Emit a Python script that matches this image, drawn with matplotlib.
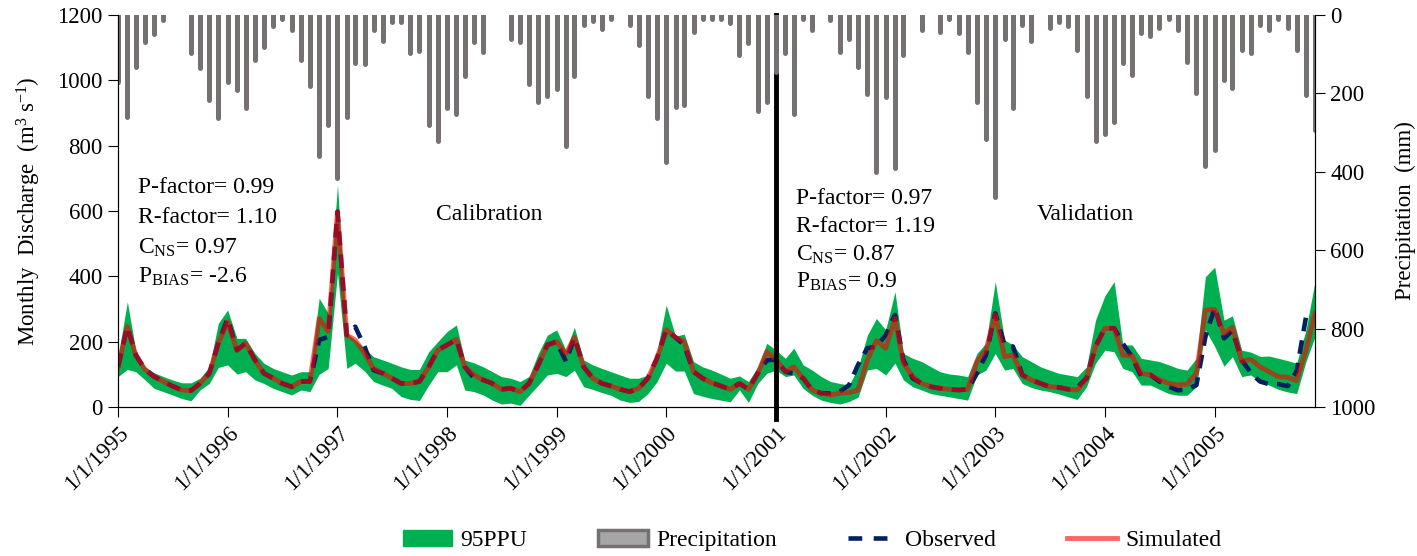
import matplotlib
matplotlib.use("Agg")
import matplotlib.pyplot as plt
import pandas as pd
from matplotlib.patches import Patch
from matplotlib.lines import Line2D

plt.rcParams['font.family'] = 'Liberation Serif'
plt.rcParams['mathtext.fontset'] = 'custom'
plt.rcParams['mathtext.rm'] = 'Liberation Serif'
plt.rcParams['mathtext.it'] = 'Liberation Serif:italic'

# monthly values, Jan 1995 - Dec 2005
precip = [170, 261, 132, 69, 48, 13, 0, 0, 98, 136, 217, 264,
          170, 191, 238, 115, 81, 28, 11, 38, 115, 181, 360, 281,
          417, 261, 122, 125, 38, 66, 19, 19, 98, 91, 281, 321,
          238, 253, 156, 70, 94, 0, 0, 62, 70, 176, 221, 206,
          189, 334, 156, 26, 15, 36, 11, 0, 26, 77, 207, 262,
          374, 234, 230, 43, 11, 11, 11, 20, 102, 72, 245, 221,
          145, 98, 253, 11, 38, 0, 14, 94, 60, 132, 202, 401,
          208, 391, 102, 0, 38, 0, 43, 11, 45, 94, 221, 317,
          464, 60, 236, 26, 66, 0, 32, 17, 28, 89, 206, 321,
          304, 272, 122, 153, 47, 54, 32, 11, 38, 119, 198, 384,
          344, 166, 187, 88, 96, 26, 38, 11, 34, 89, 204, 293]

simulated = [123, 246, 159, 115, 93, 78, 64, 52, 50, 72, 103, 195,
             261, 174, 195, 144, 103, 88, 72, 62, 78, 78, 271, 231,
             598, 220, 205, 164, 118, 103, 88, 72, 72, 78, 123, 174,
             190, 207, 123, 98, 83, 72, 54, 57, 47, 72, 129, 190,
             200, 163, 213, 123, 88, 72, 64, 54, 47, 57, 88, 149,
             236, 213, 200, 108, 88, 74, 64, 54, 72, 54, 103, 169,
             145, 108, 123, 88, 52, 42, 37, 42, 44, 52, 144, 203,
             180, 271, 134, 93, 72, 62, 57, 54, 52, 54, 139, 174,
             282, 154, 159, 98, 83, 72, 62, 60, 54, 52, 88, 185,
             240, 241, 159, 156, 103, 98, 83, 72, 67, 70, 103, 296,
             299, 225, 244, 139, 146, 123, 108, 93, 91, 81, 174, 287]

observed = [123, 246, 159, 115, 93, 78, 64, 52, 50, 72, 103, 195,
            271, 174, 195, 144, 103, 88, 72, 62, 78, 78, 205, 215,
            598, 220, 246, 185, 113, 103, 88, 72, 72, 78, 123, 174,
            190, 207, 123, 88, 83, 72, 54, 57, 47, 72, 129, 190,
            200, 139, 213, 123, 88, 72, 64, 54, 47, 57, 88, 149,
            236, 213, 190, 108, 88, 74, 64, 54, 72, 54, 103, 143,
            145, 108, 103, 88, 52, 42, 42, 47, 67, 129, 180, 185,
            220, 282, 144, 88, 72, 62, 57, 54, 52, 54, 103, 159,
            287, 190, 185, 98, 83, 72, 62, 60, 54, 60, 88, 185,
            241, 241, 194, 153, 95, 98, 78, 62, 51, 54, 67, 215,
            305, 210, 234, 144, 105, 78, 70, 70, 64, 110, 275, 275]

ppu_upper = [154, 322, 174, 123, 105, 93, 83, 74, 74, 88, 123, 256,
             297, 210, 210, 164, 134, 118, 108, 98, 108, 108, 333, 287,
             680, 226, 205, 180, 154, 144, 134, 123, 115, 115, 169, 200,
             231, 251, 144, 135, 123, 108, 93, 88, 78, 93, 164, 220,
             236, 174, 244, 144, 129, 118, 108, 98, 88, 88, 98, 169,
             312, 217, 223, 139, 123, 113, 101, 88, 95, 78, 123, 195,
             174, 149, 180, 129, 113, 93, 78, 72, 67, 120, 220, 271,
             236, 353, 164, 149, 139, 123, 108, 101, 98, 93, 164, 195,
             384, 205, 190, 154, 139, 123, 113, 103, 98, 93, 123, 266,
             340, 384, 190, 190, 149, 144, 139, 129, 118, 113, 149, 399,
             428, 266, 279, 174, 168, 155, 156, 149, 142, 134, 236, 384]

ppu_lower = [93, 115, 108, 83, 57, 47, 37, 26, 19, 52, 72, 121,
             129, 101, 108, 83, 72, 57, 47, 37, 52, 47, 100, 118,
             409, 118, 134, 110, 78, 67, 57, 32, 23, 20, 67, 108,
             108, 129, 52, 47, 37, 21, 9, 12, 5, 36, 67, 98,
             103, 93, 113, 62, 54, 44, 36, 21, 14, 17, 41, 77,
             134, 110, 110, 41, 33, 26, 21, 16, 52, 14, 72, 103,
             113, 93, 98, 57, 36, 21, 14, 9, 17, 30, 113, 118,
             98, 134, 83, 62, 52, 41, 36, 31, 26, 21, 98, 113,
             164, 113, 118, 72, 60, 52, 47, 40, 31, 23, 62, 134,
             174, 169, 118, 108, 67, 67, 54, 41, 36, 36, 62, 236,
             185, 125, 154, 93, 98, 78, 67, 54, 46, 41, 139, 215]

months = pd.date_range('1995-01-01', periods=len(simulated), freq='MS')
years = pd.date_range('1995-01-01', '2005-01-01', freq='YS')
tick_labels = ['1/1/%d' % d.year for d in years]

green = '#00B050'
bar_grey = '#767171'
navy = '#002060'
sim_red = '#FF0000'
fs = 16.5

fig = plt.figure(figsize=(14.17, 5.56), dpi=100)
ax = fig.add_axes([0.0833, 0.268, 0.8447, 0.705])

ax.fill_between(months, ppu_lower, ppu_upper, color=green, lw=0, zorder=1)
ax.plot(months, observed, color=navy, lw=3.3, ls=(0, (3.0, 2.0)), zorder=2)
ax.plot(months, simulated, color=sim_red, lw=3.5, alpha=0.6, zorder=3)
ax.axvline(pd.Timestamp('2001-01-01'), ymin=-0.03, ymax=1, color='black',
           lw=3.5, zorder=5, clip_on=False)

ax.set_xlim(months[0], months[-1])
ax.set_ylim(0, 1200)
ax.set_yticks(range(0, 1201, 200))
ax.set_xticks(years)
ax.set_xticklabels(tick_labels, rotation=45, ha='right', rotation_mode='anchor')
ax.tick_params(labelsize=fs, direction='out', length=7, pad=4)
ax.set_ylabel('Monthly  Discharge  (m$^3$ s$^{-1}$)', fontsize=fs, labelpad=10)
ax.spines['top'].set_visible(False)

ax2 = ax.twinx()
mask = [p > 0 for p in precip]
pm = [m for m, k in zip(months, mask) if k]
pv = [p for p, k in zip(precip, mask) if k]
bars = ax2.vlines(pm, 0, pv, color=bar_grey, lw=3.6)
bars.set_capstyle('round')
ax2.set_ylim(1000, 0)
ax2.set_yticks(range(0, 1001, 200))
ax2.tick_params(labelsize=fs, direction='out', length=7, pad=4)
ax2.set_ylabel('Precipitation  (mm)', fontsize=fs, labelpad=14)
ax2.spines['top'].set_visible(False)

cal = ['P-factor= 0.99', 'R-factor= 1.10', 'C$_{\\mathrm{NS}}$= 0.97',
       'P$_{\\mathrm{BIAS}}$= -2.6']
val = ['P-factor= 0.97', 'R-factor= 1.19', 'C$_{\\mathrm{NS}}$= 0.87',
       'P$_{\\mathrm{BIAS}}$= 0.9']
for k, (a, b) in enumerate(zip(cal, val)):
    ax.text(0.017, 0.559 - k * 0.076, a, transform=ax.transAxes,
            fontsize=17, va='center', zorder=6)
    ax.text(0.566, 0.531 - k * 0.071, b, transform=ax.transAxes,
            fontsize=17, va='center', zorder=6)
ax.text(0.31, 0.49, 'Calibration', transform=ax.transAxes, fontsize=17,
        ha='center', va='center')
ax.text(0.808, 0.49, 'Validation', transform=ax.transAxes, fontsize=17,
        ha='center', va='center')

handles = [Patch(facecolor=green, edgecolor=green),
           Patch(facecolor='#A6A6A6', edgecolor=bar_grey, lw=2.5),
           Line2D([], [], color=navy, lw=3.3, ls=(0, (3.0, 2.5))),
           Line2D([], [], color=sim_red, lw=3.5, alpha=0.6)]
fig.legend(handles, ['95PPU', 'Precipitation', 'Observed', 'Simulated'],
           loc='center', bbox_to_anchor=(0.573, 0.028), ncol=4,
           frameon=False, fontsize=17, handlelength=2.1, columnspacing=3.0,
           handletextpad=0.35)

fig.savefig('out.png', dpi=100)
